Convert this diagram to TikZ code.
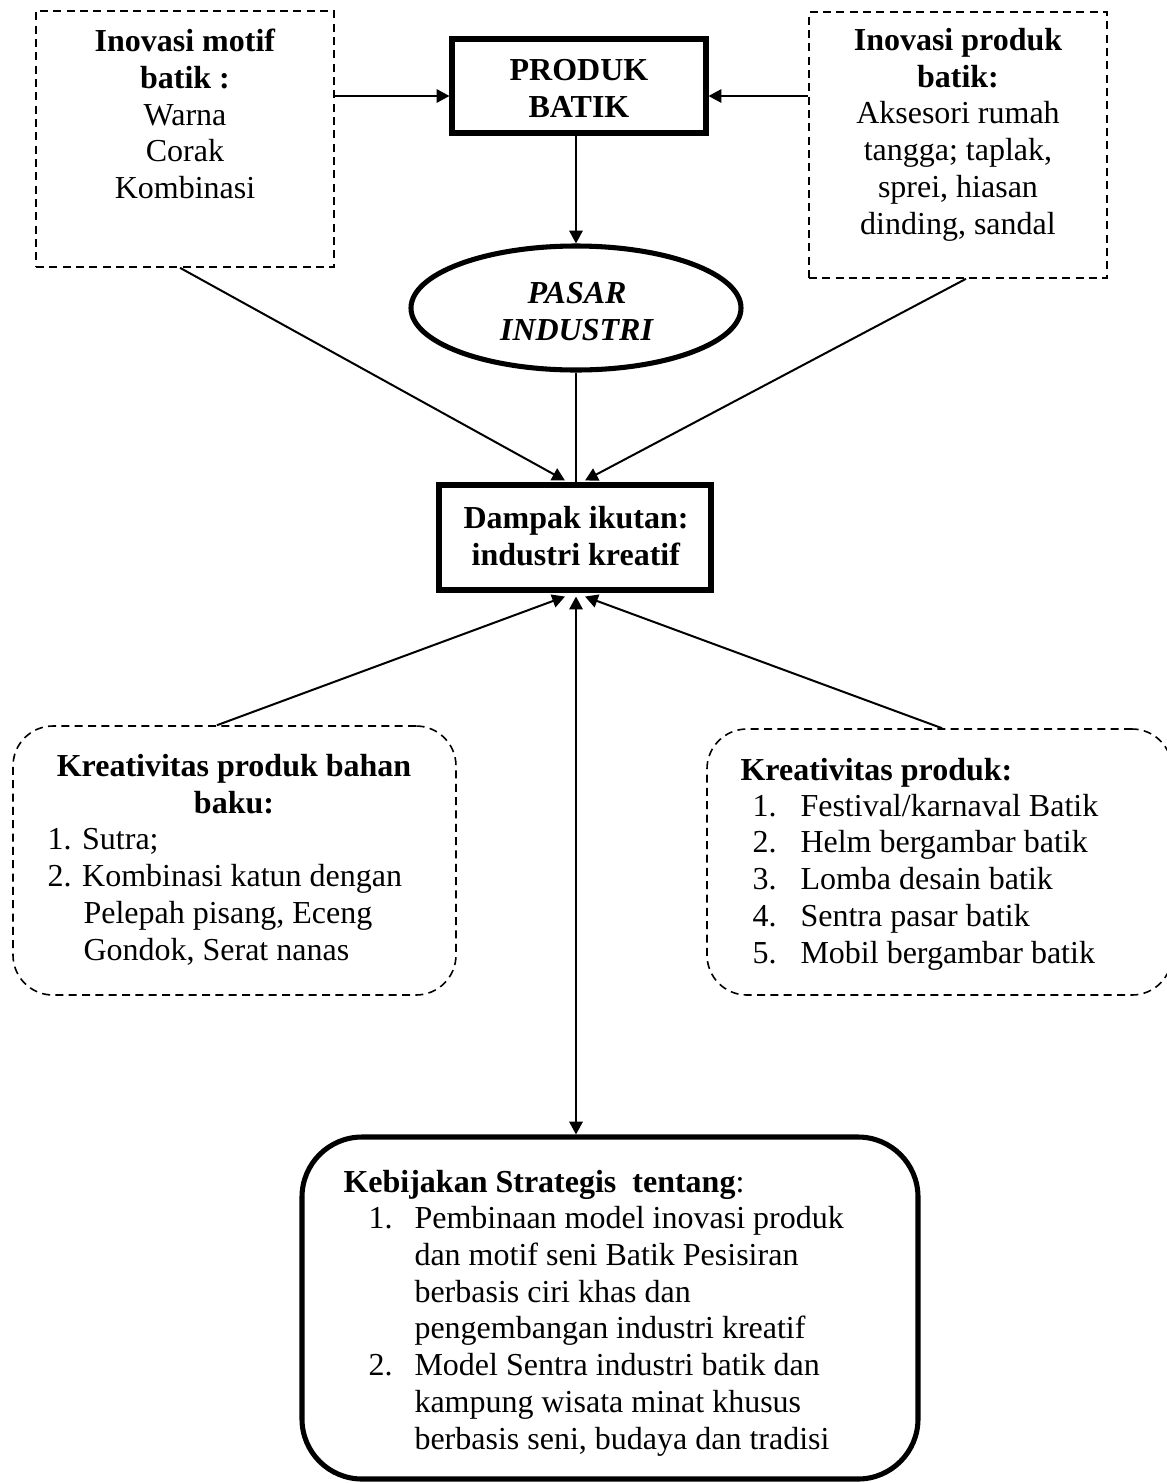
\documentclass[tikz,border=0pt]{standalone}
\usepackage{fontspec}
\setmainfont{Liberation Serif}
\usetikzlibrary{arrows.meta,shapes.geometric,calc}
\begin{document}
\begin{tikzpicture}[x=0.375pt,y=-0.375pt,
  txt/.style={inner sep=0pt, font=\fontsize{12}{13.76}\selectfont},
  dbox/.style={draw, line width=0.6pt, inner sep=0pt, dash pattern=on 3pt off 2pt},
  tbox/.style={draw, line width=1.9pt, inner sep=0pt},
  arr/.style={line width=0.75pt, -{Triangle[length=4.8pt,width=5pt]}},
  darr/.style={line width=0.75pt, {Triangle[length=4.8pt,width=5pt]}-{Triangle[length=4.8pt,width=5pt]}},
]
\useasboundingbox (0,0) rectangle (1166,1483);

% shapes
\node[dbox, minimum width=298*0.375pt, minimum height=256*0.375pt] (lbox) at (185,139) {};
\node[dbox, minimum width=298*0.375pt, minimum height=266*0.375pt] (rbox) at (958,145) {};
\node[tbox, minimum width=254*0.375pt, minimum height=94*0.375pt] (prod) at (579,86) {};
\node[tbox, ellipse, minimum width=330*0.375pt, minimum height=124*0.375pt] (ell) at (576,308) {};
\node[tbox, minimum width=272*0.375pt, minimum height=105*0.375pt] (dampak) at (575,537.5) {};
\node[dbox, rounded corners=15pt, minimum width=443*0.375pt, minimum height=269*0.375pt] (lrb) at (234.5,860.5) {};
\node[dbox, rounded corners=15pt, minimum width=465*0.375pt, minimum height=266*0.375pt] (rrb) at (939.5,862) {};
\node[tbox, rounded corners=22.5pt, minimum width=616*0.375pt, minimum height=342*0.375pt] (keb) at (610,1308) {};

% texts (anchor=base is the baseline of the last line)
\node[txt, anchor=base, align=center] (lboxt) at (185,198.5)
  {\textbf{Inovasi motif}\\\textbf{batik :}\\Warna\\Corak\\Kombinasi};
\node[txt, anchor=base, align=center] (rboxt) at (958,234)
  {\textbf{Inovasi produk}\\\textbf{batik:}\\Aksesori rumah\\tangga; taplak,\\sprei, hiasan\\dinding, sandal};
\node[txt, anchor=base, align=center] (prodt) at (579,117)
  {\textbf{PRODUK}\\\textbf{BATIK}};
\node[txt, anchor=base, align=center] (ellt) at (577,340)
  {\textbf{\textit{PASAR}}\\\textbf{\textit{INDUSTRI}}};
\node[txt, anchor=base, align=center] (dampakt) at (576,565)
  {\textbf{Dampak ikutan:}\\\textbf{industri kreatif}};
\node[txt, anchor=base, align=center] (lrbt) at (234,813)
  {\textbf{Kreativitas produk bahan}\\\textbf{baku:}};
\node[txt, anchor=base west, align=left] (lrbl) at (47,960)
  {1. Sutra;\\2. Kombinasi katun dengan\\\hspace*{13.5pt}Pelepah pisang, Eceng\\\hspace*{13.5pt}Gondok, Serat nanas};
\node[txt, anchor=base west, align=left] (rrbt) at (740,780)
  {\textbf{Kreativitas produk:}};
\node[txt, anchor=base west, align=left] (rrbl) at (752,963)
  {\makebox[18pt][l]{1.}Festival/karnaval Batik\\
   \makebox[18pt][l]{2.}Helm bergambar batik\\
   \makebox[18pt][l]{3.}Lomba desain batik\\
   \makebox[18pt][l]{4.}Sentra pasar batik\\
   \makebox[18pt][l]{5.}Mobil bergambar batik};
\node[txt, anchor=base west, align=left] (kebt) at (343,1192)
  {\textbf{Kebijakan Strategis\ \ tentang}:};
\node[txt, anchor=base west, align=left] (kebl) at (368,1449)
  {\makebox[17.25pt][l]{1.}Pembinaan model inovasi produk\\
   \hspace*{17.25pt}dan motif seni Batik Pesisiran\\
   \hspace*{17.25pt}berbasis ciri khas dan\\
   \hspace*{17.25pt}pengembangan industri kreatif\\
   \makebox[17.25pt][l]{2.}Model Sentra industri batik dan\\
   \hspace*{17.25pt}kampung wisata minat khusus\\
   \hspace*{17.25pt}berbasis seni, budaya dan tradisi};

% connectors
\draw[arr] (lbox.east |- 0,96) -- (prod.west |- 0,96);
\draw[arr] (rbox.west |- 0,96) -- (prod.east |- 0,96);
\draw[arr] (prod.south -| ell.north) -- (ell.north);
\draw[arr] (lbox.south -| 180,0) -- ($(dampak.north)+(-10,-2)$);
\draw[arr] (rbox.south -| 966,0) -- ($(dampak.north)+(10,-2)$);
\draw[line width=0.5pt] (ell.south) -- (dampak.north -| ell.south);
\draw[arr] (lrb.north -| 217,0) -- ($(dampak.south)+(-10,4)$);
\draw[arr] (rrb.north -| 942,0) -- ($(dampak.south)+(10,4)$);
\draw[darr] ($(dampak.south)+(1,4)$) -- (keb.north -| 576,0);
\end{tikzpicture}
\end{document}
